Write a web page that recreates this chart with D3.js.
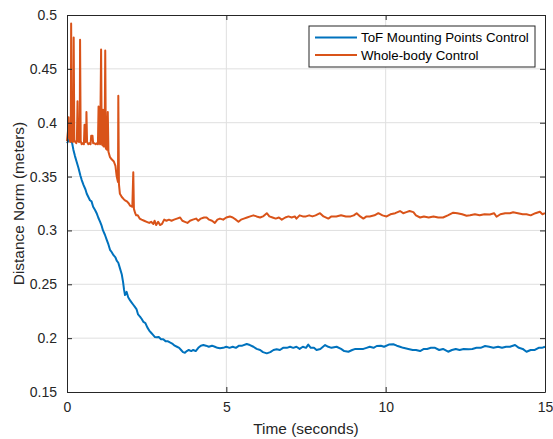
<!DOCTYPE html>
<html>
<head>
<meta charset="utf-8">
<script src="https://cdn.jsdelivr.net/npm/d3@7"></script>
<style>
  body { margin: 0; background: #fff; }
  svg { font-family: "Liberation Sans", Arial, sans-serif; }
</style>
</head>
<body>
<svg id="chart" width="553" height="439"></svg>
<script>
// values
const tofTime = [0.00,0.04,0.08,0.11,0.13,0.15,0.18,0.20,0.25,0.30,0.36,0.42,0.46,0.52,0.58,0.62,0.67,0.72,0.77,0.82,0.88,0.93,0.98,1.04,1.08,1.13,1.19,1.25,1.30,1.35,1.40,1.46,1.52,1.56,1.61,1.66,1.72,1.76,1.79,1.82,1.87,1.92,1.98,2.03,2.08,2.13,2.18,2.23,2.29,2.34,2.40,2.46,2.52,2.58,2.64,2.70,2.76,2.81,2.88,2.95,3.02,3.10,3.17,3.23,3.30,3.38,3.45,3.52,3.58,3.64,3.70,3.76,3.82,3.90,3.96,4.04,4.12,4.20,4.28,4.36,4.45,4.55,4.64,4.72,4.80,4.90,5.00,5.10,5.20,5.30,5.40,5.50,5.64,5.74,5.85,5.95,6.06,6.15,6.27,6.38,6.48,6.58,6.68,6.78,6.90,7.00,7.10,7.20,7.30,7.40,7.50,7.57,7.65,7.75,7.83,7.95,8.10,8.20,8.30,8.46,8.60,8.70,8.83,8.95,9.05,9.18,9.30,9.40,9.50,9.62,9.72,9.85,9.95,10.10,10.24,10.35,10.45,10.55,10.71,10.85,10.95,11.08,11.20,11.30,11.42,11.55,11.68,11.80,11.96,12.08,12.20,12.32,12.45,12.60,12.72,12.85,12.98,13.12,13.25,13.38,13.53,13.65,13.78,13.90,14.06,14.18,14.30,14.42,14.55,14.68,14.80,14.90,15.00];
const tofValues = [0.381,0.383,0.386,0.392,0.393,0.383,0.378,0.375,0.369,0.364,0.358,0.351,0.347,0.342,0.338,0.334,0.331,0.328,0.327,0.322,0.319,0.316,0.312,0.308,0.305,0.300,0.296,0.291,0.287,0.282,0.280,0.277,0.275,0.272,0.270,0.265,0.259,0.252,0.245,0.240,0.243,0.238,0.235,0.233,0.231,0.229,0.227,0.222,0.220,0.218,0.215,0.214,0.210,0.207,0.205,0.203,0.201,0.2008,0.201,0.199,0.199,0.197,0.197,0.196,0.195,0.193,0.192,0.191,0.189,0.187,0.1865,0.188,0.189,0.188,0.189,0.188,0.191,0.193,0.1936,0.193,0.192,0.193,0.192,0.191,0.1906,0.191,0.192,0.191,0.192,0.191,0.193,0.193,0.1946,0.1936,0.192,0.190,0.189,0.187,0.1859,0.187,0.189,0.1897,0.189,0.191,0.191,0.192,0.191,0.192,0.190,0.192,0.191,0.194,0.191,0.191,0.189,0.190,0.1936,0.192,0.191,0.192,0.190,0.188,0.1874,0.189,0.190,0.190,0.190,0.191,0.192,0.191,0.1927,0.193,0.192,0.194,0.1943,0.193,0.192,0.191,0.190,0.189,0.189,0.188,0.190,0.190,0.191,0.191,0.189,0.190,0.1874,0.189,0.190,0.189,0.190,0.1897,0.190,0.191,0.191,0.1927,0.192,0.191,0.192,0.191,0.192,0.192,0.1936,0.191,0.190,0.1874,0.189,0.189,0.191,0.191,0.192];

const wbTime = [0.00,0.03,0.05,0.07,0.10,0.12,0.13,0.15,0.18,0.20,0.21,0.23,0.26,0.29,0.31,0.33,0.35,0.38,0.40,0.41,0.43,0.46,0.50,0.53,0.55,0.57,0.60,0.61,0.63,0.67,0.71,0.74,0.76,0.80,0.82,0.86,0.90,0.94,0.97,0.99,1.01,1.04,1.07,1.09,1.11,1.13,1.15,1.18,1.20,1.22,1.25,1.28,1.30,1.35,1.40,1.47,1.52,1.56,1.60,1.61,1.63,1.66,1.72,1.78,1.82,1.88,1.94,1.98,2.05,2.08,2.10,2.14,2.17,2.22,2.28,2.34,2.42,2.50,2.58,2.64,2.71,2.75,2.80,2.86,2.92,2.98,3.05,3.12,3.20,3.28,3.36,3.45,3.55,3.62,3.70,3.78,3.86,3.95,4.05,4.12,4.20,4.30,4.38,4.46,4.55,4.64,4.72,4.80,4.90,5.00,5.11,5.20,5.30,5.38,5.46,5.55,5.65,5.75,5.85,5.95,6.06,6.15,6.27,6.35,6.45,6.55,6.65,6.74,6.85,6.95,7.05,7.15,7.20,7.30,7.40,7.50,7.60,7.70,7.80,7.94,8.05,8.20,8.30,8.45,8.60,8.75,8.90,9.00,9.09,9.20,9.30,9.40,9.50,9.65,9.77,9.90,10.03,10.15,10.30,10.45,10.55,10.65,10.75,10.87,10.95,11.08,11.20,11.35,11.50,11.65,11.80,11.95,12.12,12.25,12.40,12.54,12.65,12.80,12.95,13.10,13.27,13.40,13.48,13.60,13.75,13.90,14.00,14.15,14.30,14.42,14.55,14.70,14.84,14.92,15.00];
const wbValues = [0.383,0.392,0.405,0.386,0.382,0.383,0.492,0.384,0.382,0.383,0.479,0.384,0.382,0.381,0.383,0.420,0.383,0.382,0.384,0.477,0.383,0.380,0.381,0.380,0.398,0.382,0.384,0.410,0.382,0.380,0.381,0.380,0.388,0.388,0.381,0.381,0.380,0.381,0.380,0.415,0.382,0.380,0.468,0.381,0.379,0.412,0.378,0.378,0.467,0.376,0.375,0.410,0.373,0.368,0.366,0.364,0.360,0.350,0.345,0.425,0.343,0.334,0.331,0.329,0.328,0.327,0.325,0.323,0.322,0.354,0.320,0.316,0.314,0.314,0.311,0.310,0.309,0.308,0.307,0.308,0.306,0.309,0.305,0.308,0.305,0.306,0.310,0.309,0.310,0.309,0.310,0.311,0.312,0.309,0.308,0.307,0.309,0.310,0.311,0.309,0.311,0.312,0.312,0.310,0.309,0.307,0.310,0.311,0.310,0.312,0.313,0.312,0.310,0.308,0.310,0.311,0.312,0.313,0.314,0.313,0.312,0.313,0.316,0.313,0.312,0.311,0.312,0.310,0.312,0.313,0.312,0.313,0.311,0.314,0.313,0.313,0.314,0.313,0.314,0.316,0.313,0.311,0.313,0.313,0.314,0.313,0.313,0.314,0.316,0.313,0.311,0.313,0.313,0.314,0.316,0.314,0.313,0.315,0.316,0.318,0.316,0.317,0.318,0.317,0.314,0.312,0.313,0.312,0.313,0.312,0.312,0.314,0.3165,0.316,0.315,0.3137,0.314,0.315,0.314,0.315,0.3148,0.316,0.3127,0.315,0.316,0.316,0.3168,0.316,0.315,0.315,0.314,0.316,0.3174,0.315,0.316];

const xTicks = [0, 5, 10, 15];
const yTicks = [0.15, 0.2, 0.25, 0.3, 0.35, 0.4, 0.45, 0.5];
const seriesNames = ["ToF Mounting Points Control", "Whole-body Control"];
const seriesColors = ["#0072BD", "#D95319"];

const margin = { left: 67, right: 8, top: 15, bottom: 47 };
const W = 553, H = 439;
const svg = d3.select("#chart");
const axisColor = "#262626";

const x = d3.scaleLinear().domain([0, 15]).range([margin.left, W - margin.right]);
const y = d3.scaleLinear().domain([0.15, 0.5]).range([H - margin.bottom, margin.top]);

// grid
svg.append("g").selectAll("line").data(xTicks.slice(1, -1)).join("line")
  .attr("x1", d => x(d)).attr("x2", d => x(d))
  .attr("y1", y(0.15)).attr("y2", y(0.5))
  .attr("stroke", "#dfdfdf").attr("stroke-width", 1);
svg.append("g").selectAll("line").data(yTicks.slice(1, -1)).join("line")
  .attr("y1", d => y(d)).attr("y2", d => y(d))
  .attr("x1", x(0)).attr("x2", x(15))
  .attr("stroke", "#dfdfdf").attr("stroke-width", 1);

// series
const series = [
  { t: tofTime, v: tofValues },
  { t: wbTime, v: wbValues }
];
const line = d3.line().x(d => x(d[0])).y(d => y(d[1]));
series.forEach((s, i) => {
  svg.append("path")
    .datum(d3.zip(s.t, s.v))
    .attr("d", line)
    .attr("fill", "none")
    .attr("stroke", seriesColors[i])
    .attr("stroke-width", 2)
    .attr("stroke-linejoin", "round");
});

// axes, ticks inward, box
const tickLen = 5;
const styleAxis = g => {
  g.select(".domain").attr("stroke", axisColor);
  g.selectAll(".tick line").attr("stroke", axisColor);
  g.selectAll("text").attr("fill", axisColor).style("font-size", "14px")
    .style("font-family", "'Liberation Sans', Arial, sans-serif");
};
svg.append("g").attr("transform", `translate(0,${y(0.15)})`)
  .call(d3.axisBottom(x).tickValues(xTicks).tickFormat(d3.format("d"))
    .tickSizeInner(-tickLen).tickSizeOuter(0).tickPadding(10))
  .call(styleAxis);
svg.append("g").attr("transform", `translate(0,${y(0.5)})`)
  .call(d3.axisTop(x).tickValues(xTicks).tickFormat("")
    .tickSizeInner(-tickLen).tickSizeOuter(0))
  .call(styleAxis);
svg.append("g").attr("transform", `translate(${x(0)},0)`)
  .call(d3.axisLeft(y).tickValues(yTicks).tickFormat(d3.format(""))
    .tickSizeInner(-tickLen).tickSizeOuter(0).tickPadding(10))
  .call(styleAxis);
svg.append("g").attr("transform", `translate(${x(15)},0)`)
  .call(d3.axisRight(y).tickValues(yTicks).tickFormat("")
    .tickSizeInner(-tickLen).tickSizeOuter(0))
  .call(styleAxis);

// axis labels
svg.append("text")
  .attr("x", (x(0) + x(15)) / 2).attr("y", 434)
  .attr("text-anchor", "middle").attr("fill", axisColor)
  .style("font-size", "15.4px").text("Time (seconds)");
svg.append("text")
  .attr("transform", `translate(24,${(y(0.15) + y(0.5)) / 2}) rotate(-90)`)
  .attr("text-anchor", "middle").attr("fill", axisColor)
  .style("font-size", "15.4px").text("Distance Norm (meters)");

// legend
const lg = svg.append("g").attr("transform", "translate(309,26)");
lg.append("rect").attr("width", 226).attr("height", 41)
  .attr("fill", "#fff").attr("stroke", axisColor).attr("stroke-width", 1);
seriesNames.forEach((name, i) => {
  const cy = 11.5 + i * 17.5;
  lg.append("line").attr("x1", 6).attr("x2", 48).attr("y1", cy).attr("y2", cy)
    .attr("stroke", seriesColors[i]).attr("stroke-width", 2);
  lg.append("text").attr("x", 52).attr("y", cy).attr("dy", "0.35em")
    .attr("fill", "#000").style("font-size", "13.3px").text(name);
});
</script>
</body>
</html>
